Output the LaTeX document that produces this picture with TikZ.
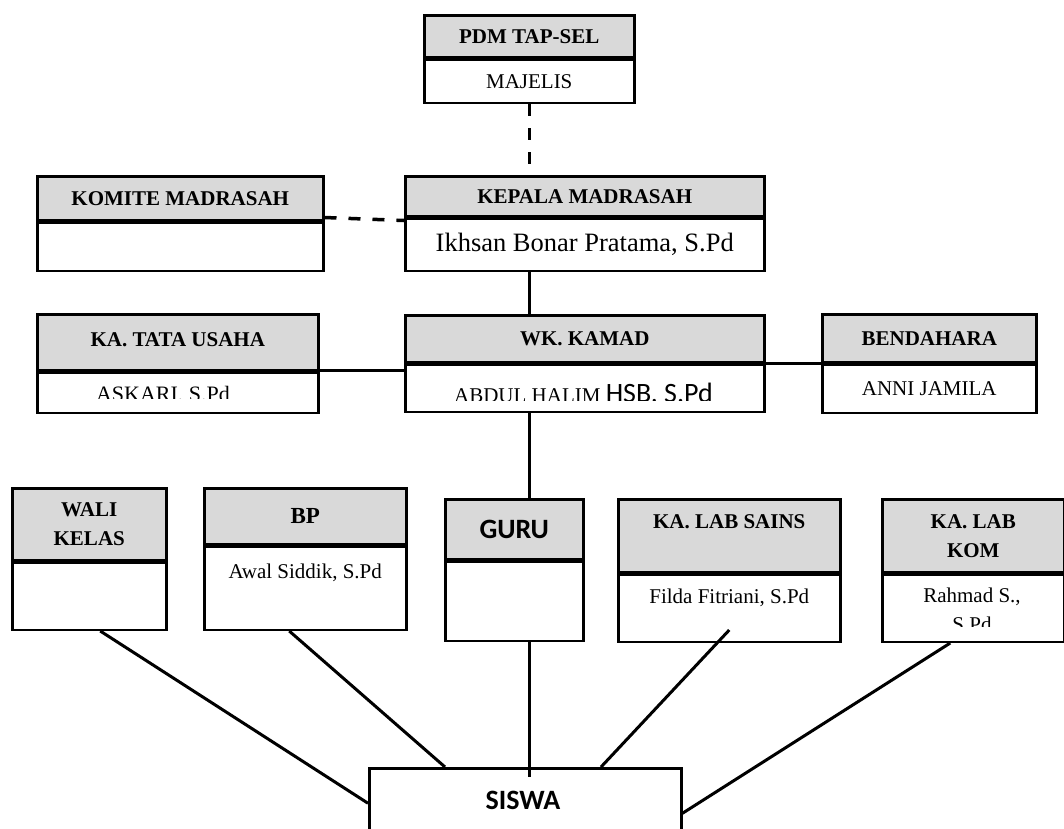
\documentclass[tikz,border=0pt]{standalone}
\usepackage{fontspec}
\setmainfont{Liberation Serif}
\newfontfamily\calib{Carlito}
\usetikzlibrary{calc}
\definecolor{hdrgray}{HTML}{D9D9D9}
\tikzset{
  hdr/.style={draw, line width=2.5pt, fill=hdrgray, inner sep=0pt, anchor=north west, align=center, font=\bfseries},
  bdy/.style={draw, line width=2.5pt, fill=white, inner sep=0pt, anchor=north west, align=center},
  txt/.style={inner sep=0pt, align=center},
  conn/.style={line width=3pt},
  dconn/.style={line width=3.5pt, dash pattern=on 12pt off 12pt},
  cfont/.style={font=\calib\bfseries\fontsize{28}{30}\selectfont},
}
\begin{document}
\fontsize{21}{29}\selectfont
\begin{tikzpicture}[x=1pt,y=-1pt]
\useasboundingbox (0,0) rectangle (1064,828);
\clip (0,0) rectangle (1064,828);
% top
\node[hdr, minimum width=210pt, minimum height=42pt] (pdm-h) at (423,14) {PDM TAP-SEL};
\node[bdy, minimum width=210pt, minimum height=43pt] (pdm-b) at (pdm-h.south west) {MAJELIS};
% komite
\node[hdr, minimum width=286pt, minimum height=44pt] (kom-h) at (36,175) {KOMITE MADRASAH};
\node[bdy, minimum width=286pt, minimum height=48pt] (kom-b) at (kom-h.south west) {};
% kepala
\node[hdr, minimum width=359pt, minimum height=40pt] (kep-h) at (404,175) {KEPALA MADRASAH};
\node[bdy, minimum width=359pt, minimum height=52pt, font=\fontsize{26.5}{30}\selectfont] (kep-b) at (kep-h.south west) {Ikhsan Bonar Pratama, S.Pd};
% wk kamad
\node[hdr, minimum width=359pt, minimum height=47pt] (wk-h) at (404,314) {WK. KAMAD};
\node[bdy, minimum width=359pt, minimum height=47pt] (wk-b) at (wk-h.south west) {};
\begin{scope}
\clip (404,361) rectangle (763,400);
\node[txt, anchor=base] (wk-t) at (583.5,402) {ABDUL HALIM {\calib\fontsize{28}{30}\selectfont HSB, S.Pd}};
\end{scope}
% tata usaha
\node[hdr, minimum width=281pt, minimum height=56pt, text depth=6pt] (tu-h) at (36,313) {KA. TATA USAHA};
\node[bdy, minimum width=281pt, minimum height=40pt] (tu-b) at (tu-h.south west) {};
\begin{scope}
\clip (36,369) rectangle (317,398.5);
\node[txt, anchor=base, font=\fontsize{22}{29}\selectfont] (tu-t) at (163,401) {ASKARI, S.Pd};
\end{scope}
% bendahara
\node[hdr, minimum width=214pt, minimum height=48pt] (ben-h) at (821,313) {BENDAHARA};
\node[bdy, minimum width=214pt, minimum height=48pt] (ben-b) at (ben-h.south west) {ANNI JAMILA};
% wali kelas
\node[hdr, minimum width=154pt, minimum height=72pt] (wali-h) at (11,487) {WALI\\KELAS};
\node[bdy, minimum width=154pt, minimum height=67pt] (wali-b) at (wali-h.south west) {};
% bp
\node[hdr, minimum width=202pt, minimum height=56pt, font=\bfseries\fontsize{23}{28}\selectfont] (bp-h) at (203,487) {BP};
\node[bdy, minimum width=202pt, minimum height=83pt] (bp-b) at (bp-h.south west) {};
\node[txt] (bp-t) at ([yshift=-27pt]bp-b.north) {Awal Siddik, S.Pd};
% guru
\node[hdr, minimum width=138pt, minimum height=60pt, cfont] (guru-h) at (444,498) {GURU};
\node[bdy, minimum width=138pt, minimum height=79pt] (guru-b) at (guru-h.south west) {};
% lab sains
\node[hdr, minimum width=222pt, minimum height=73pt] (ls-h) at (617,498) {KA. LAB SAINS\\~};
\node[bdy, minimum width=222pt, minimum height=67pt] (ls-b) at (ls-h.south west) {};
\node[txt] (ls-t) at ([yshift=-24pt]ls-b.north) {Filda Fitriani, S.Pd};
% lab kom
\node[hdr, minimum width=182pt, minimum height=73pt] (lk-h) at (881,498) {KA. LAB\\KOM};
\node[bdy, minimum width=182pt, minimum height=67pt] (lk-b) at (lk-h.south west) {};
\begin{scope}
\clip (881,571) rectangle (1063,626);
\node[txt, anchor=north] (lk-t) at (972,588) {Rahmad S.,\\S.Pd};
\end{scope}
% siswa
\node[bdy, minimum width=312pt, minimum height=90pt] (sis) at (368,767) {};
\node[txt, cfont] (sis-t) at (523,800) {SISWA};
% connectors
\draw[dconn] (pdm-b.south) -- (pdm-b.south |- kep-h.north);
\draw[dconn] ([yshift=4pt]kom-h.south east) -- ([yshift=-3pt]kep-h.south west);
\draw[conn] (pdm-b.south |- kep-b.south) -- (pdm-b.south |- wk-h.north);
\draw[conn] ([yshift=1pt]tu-h.south east) -- ([yshift=1pt]tu-h.south east -| wk-h.west);
\draw[conn] (wk-h.south east) -- (ben-h.south west);
\draw[conn] (pdm-b.south |- wk-b.south) -- (pdm-b.south |- guru-h.north);
\draw[conn] ([xshift=11pt]wali-b.south) -- ([yshift=10pt]sis.west);
\draw[conn] ([xshift=-16pt]bp-b.south) -- ([xshift=77pt]sis.north west);
\draw[conn] (pdm-b.south |- guru-b.south) -- ($(pdm-b.south |- sis.north)+(0,10)$);
\draw[conn] ([yshift=13pt]ls-b.south) -- ([xshift=233pt]sis.north west);
\draw[conn] ([xshift=-23pt]lk-b.south) -- (sis.east);
\end{tikzpicture}
\end{document}
